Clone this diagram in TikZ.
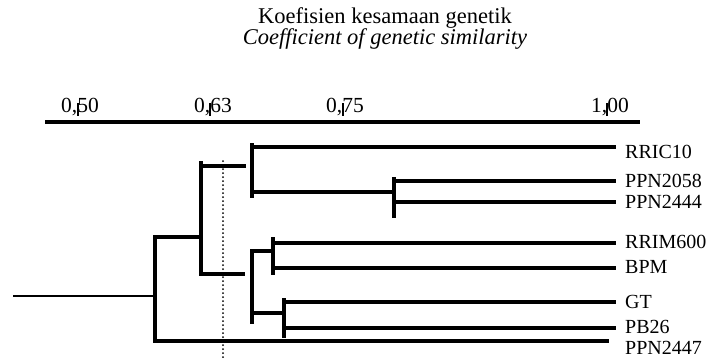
\documentclass[tikz,border=0pt]{standalone}
\usepackage{fontspec}
\setmainfont{Liberation Serif}
\begin{document}
\begin{tikzpicture}[x=1pt,y=-1pt,
  branch/.style={line width=3.2pt,line cap=rect},
  axisline/.style={line width=4.2pt},
  tickmark/.style={line width=1.8pt},
  cutline/.style={line width=2pt,line cap=round,dash pattern=on 0pt off 4pt},
  leaflabel/.style={anchor=base west,inner sep=0pt,font=\fontsize{20}{24}\selectfont},
  ticklabel/.style={anchor=base,inner sep=0pt,font=\fontsize{21.5}{25}\selectfont},
  titletext/.style={anchor=base,inner sep=0pt,font=\fontsize{22.5}{27}\selectfont}]
\useasboundingbox (0,0) rectangle (707,357);
% titles
\node[titletext] (t1) at (385,23) {Koefisien kesamaan genetik};
\node[titletext] (t2) at (385,44) {\itshape Coefficient of genetic similarity};
% axis
\coordinate (axL) at (45,122);
\coordinate (axR) at (640,122);
\draw[axisline] (axL) -- (axR);
\node[ticklabel] (k1) at (80,112) {0,50};
\node[ticklabel] (k2) at (213,112) {0,63};
\node[ticklabel] (k3) at (345,112) {0,75};
\node[ticklabel] (k4) at (610,112) {1,00};
\foreach \xt in {78,210,343,607}{
  \draw[tickmark] (\xt,103) -- (\xt,116);
}
% leaves
\coordinate (eR) at (614,147);
\coordinate (eA) at (614,181);
\coordinate (eB) at (614,202);
\coordinate (eC) at (614,243);
\coordinate (eD) at (614,268);
\coordinate (eE) at (614,302);
\coordinate (eF) at (614,328);
\coordinate (eG) at (607,341);
\node[leaflabel] (lR) at (625,158) {RRIC10};
\node[leaflabel] (lA) at (625,187) {PPN2058};
\node[leaflabel] (lB) at (625,208) {PPN2444};
\node[leaflabel] (lC) at (625,248) {RRIM600};
\node[leaflabel] (lD) at (625,273) {BPM};
\node[leaflabel] (lE) at (625,308) {GT};
\node[leaflabel] (lF) at (625,333) {PB26};
\node[leaflabel] (lG) at (625,354) {PPN2447};
% PPN2058 / PPN2444 cluster
\draw[branch] (394,181) -- (eA);
\draw[branch] (394,202) -- (eB);
\draw[branch] (394,179) -- (394,216);
% RRIC10 cluster
\draw[branch] (252,147) -- (eR);
\draw[branch] (252,192) -- (394,192);
\draw[branch] (252,145) -- (252,196);
% RRIM600 / BPM
\draw[branch] (273,243) -- (eC);
\draw[branch] (273,268) -- (eD);
\draw[branch] (273,239) -- (273,273);
% GT / PB26
\draw[branch] (284,302) -- (eE);
\draw[branch] (284,328) -- (eF);
\draw[branch] (284,300) -- (284,336);
% lower cluster
\draw[branch] (252,251) -- (273,251);
\draw[branch] (252,313) -- (284,313);
\draw[branch] (252,251) -- (252,322);
% middle join (with gaps)
\draw[branch] (201,166) -- (244,166);
\draw[branch] (201,274) -- (243,274);
\draw[branch] (201,163) -- (201,274);
% root join
\draw[branch] (155,237) -- (201,237);
\draw[branch] (155,341) -- (eG);
\draw[branch] (155,237) -- (155,341);
\draw[line width=2.8pt] (13,296) -- (155,296);
% cut-off line
\draw[cutline] (223,161) -- (223,357);
\end{tikzpicture}
\end{document}
